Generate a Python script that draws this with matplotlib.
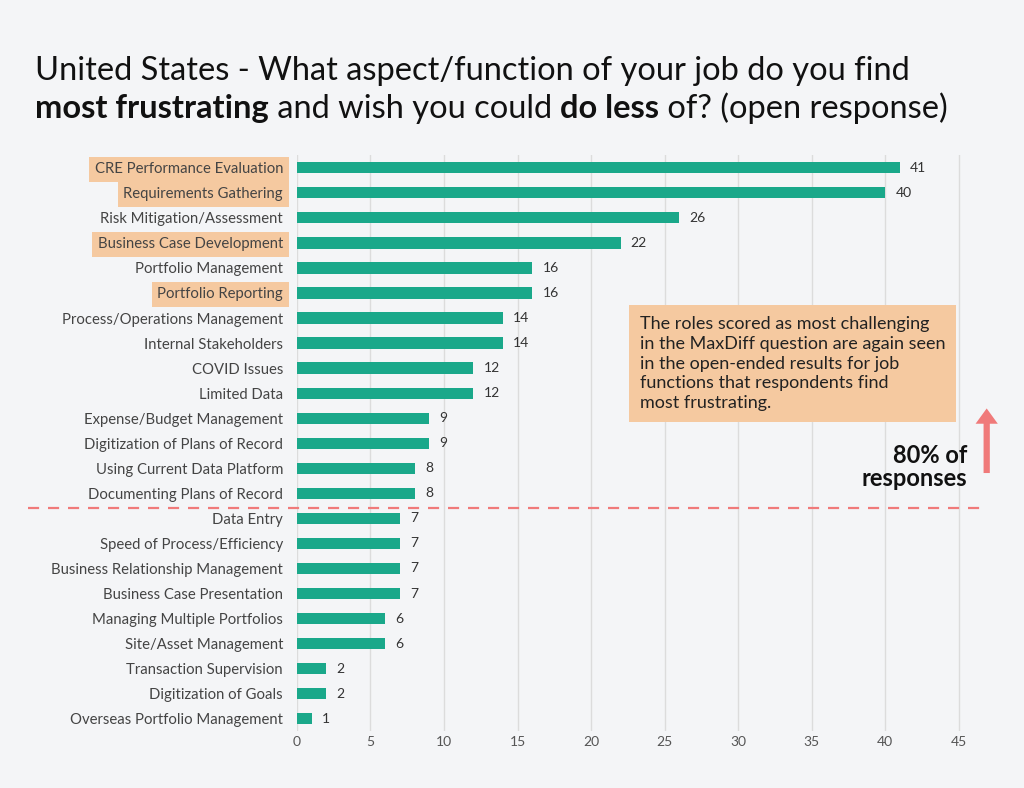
import matplotlib.pyplot as plt

categories = ['CRE Performance Evaluation', 'Requirements Gathering', 'Risk Mitigation/Assessment',
              'Business Case Development', 'Portfolio Management', 'Portfolio Reporting',
              'Process/Operations Management', 'Internal Stakeholders', 'COVID Issues', 'Limited Data',
              'Expense/Budget Management', 'Digitization of Plans of Record', 'Using Current Data Platform',
              'Documenting Plans of Record', 'Data Entry', 'Speed of Process/Efficiency',
              'Business Relationship Management', 'Business Case Presentation', 'Managing Multiple Portfolios',
              'Site/Asset Management', 'Transaction Supervision', 'Digitization of Goals',
              'Overseas Portfolio Management']
values = [41, 40, 26, 22, 16, 16, 14, 14, 12, 12, 9, 9, 8, 8, 7, 7, 7, 7, 6, 6, 2, 2, 1]
highlighted = ['CRE Performance Evaluation', 'Requirements Gathering', 'Business Case Development',
               'Portfolio Reporting']

bg = '#f4f5f7'
teal = '#1aa88a'
orange = '#f5c9a0'
red = '#f07a7a'
plt.rcParams['font.family'] = ['Lato', 'DejaVu Sans']

fig = plt.figure(figsize=(10.24, 7.88), dpi=100, facecolor=bg)
ax = fig.add_axes([0.29, 0.072, 0.675, 0.731], facecolor=bg)
n = len(values)
ypos = list(range(n))
ax.barh(ypos, values, height=0.45, color=teal)
ax.set_ylim(n - 0.5, -0.5)
ax.set_xlim(0, 47)
ax.set_xticks(range(0, 50, 5))
ax.grid(axis='x', color='#dcdcdc', lw=1)
ax.set_axisbelow(True)
for s in ax.spines.values():
    s.set_visible(False)
ax.tick_params(axis='x', length=0, labelsize=10, colors='#555555')
ax.tick_params(axis='y', length=0, pad=10, colors='#444444')
ax.set_yticks(ypos)
ax.set_yticklabels(categories, fontsize=10.7)
for lab in ax.get_yticklabels():
    if lab.get_text() in highlighted:
        lab.set_bbox(dict(facecolor=orange, edgecolor='none', pad=4))
for y, v in zip(ypos, values):
    ax.text(v + 0.7, y, str(v), va='center', fontsize=10, color='#333333')

# 80% cut-off line
ax.plot([-18.3, 46.5], [13.6, 13.6], ls=(0, (5, 4)), color=red, lw=1.6, clip_on=False)
ax.annotate('', xy=(46.9, 9.5), xytext=(46.9, 12.3),
            arrowprops=dict(arrowstyle='simple,head_width=1.6,head_length=1.1,tail_width=0.45',
                            color=red, lw=0))
ax.text(45.6, 11.95, '80% of\nresponses', ha='right', va='center', fontsize=17,
        fontweight='bold', color='#111111', linespacing=1.0)

fig.text(0.625, 0.478, 'The roles scored as most challenging\nin the MaxDiff question are again seen\n'
         'in the open-ended results for job\nfunctions that respondents find\nmost frustrating.',
         fontsize=13, color='#222222', va='bottom', ha='left', linespacing=1.3,
         bbox=dict(facecolor=orange, edgecolor='none', boxstyle='square,pad=0.6'))

# title with bold parts
fig.canvas.draw()
r = fig.canvas.get_renderer()
def line(parts, y):
    x = 35 / 1024
    for txt, bold in parts:
        t = fig.text(x, y, txt, fontsize=23.5, fontweight='bold' if bold else 'normal',
                     color='#111111', va='baseline')
        bb = t.get_window_extent(renderer=r)
        x += bb.width / fig.bbox.width
line([('United States - What aspect/function of your job do you find', False)], 1 - 80 / 788)
line([('most frustrating', True), (' and wish you could ', False), ('do less', True),
      (' of? (open response)', False)], 1 - 118 / 788)

fig.savefig('out.png', dpi=100, facecolor=bg)
